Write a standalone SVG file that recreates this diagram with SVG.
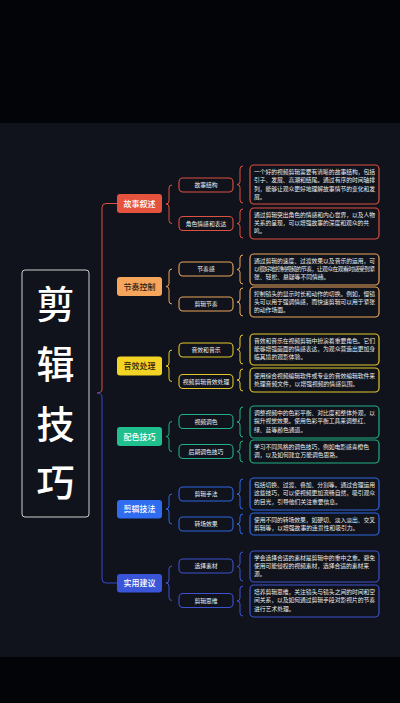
<svg xmlns="http://www.w3.org/2000/svg" width="400" height="703" viewBox="0 0 400 703">
<style>
text{font-family:"Noto Sans CJK SC","Noto Sans",sans-serif}
.ttl{font-size:38px;fill:#ffffff;text-anchor:middle;font-weight:500}
.sec{font-size:8px;text-anchor:middle;font-weight:500}
.ch{font-size:5.8px;fill:#f2f2f2;text-anchor:middle}
.tx{font-size:5.8px;fill:#eeeeee}
.cbox{fill:#10131b;stroke-width:1.1}
.tbox{fill:#10131b;stroke-width:1.2}
.br{fill:none;stroke-width:1}
.red{stroke:#dc5142}.ora{stroke:#e8a55c}.yel{stroke:#e2c62c}.grn{stroke:#20b083}.blu{stroke:#2f66e2}.ind{stroke:#3d52cc}
</style>
<rect x="0" y="0" width="400" height="703" fill="#030408"/>
<rect x="0" y="123" width="400" height="534" fill="#10131b"/>

<g id="connectors">
<path class="br red" d="M117 203.5 L106 203.5 Q102 203.5 102 207.5 L102 389 Q102 393 97 393"/>
<path class="br blu" d="M97 393 Q102 393 102 397 L102 579 Q102 583 106 583 L117 583" style="stroke:#3448cc"/>
<path class="br red" d="M172 185 Q169 185 169 188 L169 201 Q169 204 166 204 Q169 204 169 207 L169 220.5 Q169 223.5 172 223.5"/>
<path class="br ora" d="M172 269 Q169 269 169 272 L169 283.5 Q169 286.5 166 286.5 Q169 286.5 169 289.5 L169 301 Q169 304 172 304"/>
<path class="br yel" d="M172 350 Q169 350 169 353 L169 363 Q169 366 166 366 Q169 366 169 369 L169 378.5 Q169 381.5 172 381.5"/>
<path class="br grn" d="M172 421.5 Q169 421.5 169 424.5 L169 433.5 Q169 436.5 166 436.5 Q169 436.5 169 439.5 L169 448.5 Q169 451.5 172 451.5"/>
<path class="br blu" d="M172 494 Q169 494 169 497 L169 506 Q169 509 166 509 Q169 509 169 512 L169 521 Q169 524 172 524"/>
<path class="br ind" d="M172 566 Q169 566 169 569 L169 580 Q169 583 166 583 Q169 583 169 586 L169 597.5 Q169 600.5 172 600.5"/>
<path class="br red" d="M243 166 Q240 166 240 169 L240 181.5 Q240 184.5 237 184.5 Q240 184.5 240 187.5 L240 200 Q240 203 243 203"/>
<path class="br red" d="M243 209 Q240 209 240 212 L240 220.5 Q240 223.5 237 223.5 Q240 223.5 240 226.5 L240 235 Q240 238 243 238"/>
<path class="br ora" d="M243 255 Q240 255 240 258 L240 266.5 Q240 269.5 237 269.5 Q240 269.5 240 272.5 L240 281 Q240 284 243 284"/>
<path class="br ora" d="M243 288 Q240 288 240 291 L240 299 Q240 302 237 302 Q240 302 240 305 L240 313 Q240 316 243 316"/>
<path class="br yel" d="M243 335 Q240 335 240 338 L240 346.5 Q240 349.5 237 349.5 Q240 349.5 240 352.5 L240 361 Q240 364 243 364"/>
<path class="br yel" d="M243 369 Q240 369 240 372 L240 377 Q240 380 237 380 Q240 380 240 383 L240 388 Q240 391 243 391"/>
<path class="br grn" d="M243 407 Q240 407 240 410 L240 419 Q240 422 237 422 Q240 422 240 425 L240 434 Q240 437 243 437"/>
<path class="br grn" d="M243 441 Q240 441 240 444 L240 448.5 Q240 451.5 237 451.5 Q240 451.5 240 454.5 L240 459 Q240 462 243 462"/>
<path class="br blu" d="M243 479 Q240 479 240 482 L240 491 Q240 494 237 494 Q240 494 240 497 L240 506 Q240 509 243 509"/>
<path class="br blu" d="M243 514 Q240 514 240 517 L240 521 Q240 524 237 524 Q240 524 240 527 L240 531 Q240 534 243 534"/>
<path class="br ind" d="M243 552 Q240 552 240 555 L240 563.5 Q240 566.5 237 566.5 Q240 566.5 240 569.5 L240 578 Q240 581 243 581"/>
<path class="br ind" d="M243 586 Q240 586 240 589 L240 598 Q240 601 237 601 Q240 601 240 604 L240 613 Q240 616 243 616"/>
</g>

<g id="root">
<rect x="22" y="270" width="67" height="247" rx="3" fill="#10131b" stroke="#d0d0d0" stroke-width="1"/>
<text class="ttl" x="55.5" y="318">剪</text>
<text class="ttl" x="55.5" y="378">辑</text>
<text class="ttl" x="55.5" y="438">技</text>
<text class="ttl" x="55.5" y="496">巧</text>
</g>

<g id="s1"><rect x="117" y="194" width="45" height="19" rx="3" fill="#e5533f"/><text class="sec" x="139.5" y="206.5" fill="#ffffff">故事叙述</text></g>
<g id="s1c1"><rect class="cbox red" x="179" y="178" width="54" height="14" rx="4"/><text class="ch" x="206" y="187">故事结构</text></g>
<g id="s1c2"><rect class="cbox red" x="179" y="216.5" width="54" height="14" rx="4"/><text class="ch" x="206" y="225.5">角色情感和表达</text></g>
<g id="s1t1"><rect class="tbox red" x="250" y="165" width="129" height="39" rx="4"/>
<text class="tx" x="254" y="174" textLength="121">一个好的视频剪辑需要有清晰的故事结构，包括</text>
<text class="tx" x="254" y="182.3" textLength="121">引子、发展、高潮和结尾。通过有序的时间轴排</text>
<text class="tx" x="254" y="190.6" textLength="121">列，能够让观众更好地理解故事情节的变化和发</text>
<text class="tx" x="254" y="198.9">展。</text></g>
<g id="s1t2"><rect class="tbox red" x="250" y="208" width="129" height="31" rx="4"/>
<text class="tx" x="254" y="216.8" textLength="121">通过剪辑突出角色的情感和内心世界，以及人物</text>
<text class="tx" x="254" y="225.1" textLength="115">关系的呈现，可以增强故事的深度和观众的共</text>
<text class="tx" x="254" y="233.4">鸣。</text></g>

<g id="s2"><rect x="117" y="277" width="45" height="19" rx="3" fill="#f5a55c"/><text class="sec" x="139.5" y="289.5" fill="#2a2118">节奏控制</text></g>
<g id="s2c1"><rect class="cbox ora" x="179" y="262" width="54" height="14" rx="4"/><text class="ch" x="206" y="271">节奏感</text></g>
<g id="s2c2"><rect class="cbox ora" x="179" y="297" width="54" height="14" rx="4"/><text class="ch" x="206" y="306">剪辑节奏</text></g>
<g id="s2t1"><rect class="tbox ora" x="250" y="254" width="129" height="31" rx="4"/>
<text class="tx" x="254" y="262.8" textLength="121">通过剪辑的速度、过渡效果以及音乐的运用，可</text>
<text class="tx" x="254" y="271.1" textLength="121">以很好地控制视频的节奏，让观众在观看时感受到紧</text>
<text class="tx" x="254" y="279.4">张、轻松、悬疑等不同情绪。</text></g>
<g id="s2t2"><rect class="tbox ora" x="250" y="287" width="129" height="30" rx="4"/>
<text class="tx" x="254" y="295.6" textLength="121">控制镜头的显示时长和动作的切换。例如，慢镜</text>
<text class="tx" x="254" y="303.9" textLength="121">头可以用于强调情感，而快速剪辑可以用于紧张</text>
<text class="tx" x="254" y="312.2">的动作场面。</text></g>

<g id="s3"><rect x="117" y="356.5" width="45" height="19" rx="3" fill="#f3d425"/><text class="sec" x="139.5" y="369" fill="#2a2410">音效处理</text></g>
<g id="s3c1"><rect class="cbox yel" x="179" y="343" width="54" height="14" rx="4"/><text class="ch" x="206" y="352">音效和音乐</text></g>
<g id="s3c2"><rect class="cbox yel" x="179" y="374.5" width="54" height="14" rx="4"/><text class="ch" x="206" y="383.5">视频剪辑音效处理</text></g>
<g id="s3t1"><rect class="tbox yel" x="250" y="334" width="129" height="31" rx="4"/>
<text class="tx" x="254" y="342.8" textLength="121">音效和音乐在视频剪辑中扮演着重要角色。它们</text>
<text class="tx" x="254" y="351.1" textLength="121">能够增强画面的情感表达，为观众营造出更加身</text>
<text class="tx" x="254" y="359.4">临其境的观影体验。</text></g>
<g id="s3t2"><rect class="tbox yel" x="250" y="368" width="129" height="24" rx="4"/>
<text class="tx" x="254" y="377.6" textLength="121">使用综合视频编辑软件或专业的音效编辑软件来</text>
<text class="tx" x="254" y="385.9">处理音频文件，以增强视频的情感氛围。</text></g>

<g id="s4"><rect x="117" y="427" width="45" height="19" rx="3" fill="#20bf8e"/><text class="sec" x="139.5" y="439.5" fill="#ffffff">配色技巧</text></g>
<g id="s4c1"><rect class="cbox grn" x="179" y="414.5" width="54" height="14" rx="4"/><text class="ch" x="206" y="423.5">视频调色</text></g>
<g id="s4c2"><rect class="cbox grn" x="179" y="444.5" width="54" height="14" rx="4"/><text class="ch" x="206" y="453.5">后期调色技巧</text></g>
<g id="s4t1"><rect class="tbox grn" x="250" y="406" width="129" height="32" rx="4"/>
<text class="tx" x="254" y="415" textLength="121">调整视频中的色彩平衡、对比度和整体外观，以</text>
<text class="tx" x="254" y="423.3" textLength="115">提升视觉效果。使用色彩平衡工具来调整红、</text>
<text class="tx" x="254" y="431.6">绿、蓝等颜色通道。</text></g>
<g id="s4t2"><rect class="tbox grn" x="250" y="440" width="129" height="23" rx="4"/>
<text class="tx" x="254" y="449.1" textLength="115">学习不同风格的调色技巧，例如电影感青橙色</text>
<text class="tx" x="254" y="457.4">调，以及如何建立万能调色思路。</text></g>

<g id="s5"><rect x="117" y="500" width="45" height="18.5" rx="3" fill="#2f6cf0"/><text class="sec" x="139.5" y="512.3" fill="#ffffff">剪辑技法</text></g>
<g id="s5c1"><rect class="cbox blu" x="179" y="487" width="54" height="14" rx="4"/><text class="ch" x="206" y="496">剪辑手法</text></g>
<g id="s5c2"><rect class="cbox blu" x="179" y="517" width="54" height="14" rx="4"/><text class="ch" x="206" y="526">转场效果</text></g>
<g id="s5t1"><rect class="tbox blu" x="250" y="478" width="129" height="32" rx="4"/>
<text class="tx" x="254" y="487" textLength="121">包括切换、过渡、叠加、分割等。通过合理运用</text>
<text class="tx" x="254" y="495.3" textLength="121">这些技巧，可以使视频更加流畅自然，吸引观众</text>
<text class="tx" x="254" y="503.6">的目光，引导他们关注重要信息。</text></g>
<g id="s5t2"><rect class="tbox blu" x="250" y="513" width="129" height="22" rx="4"/>
<text class="tx" x="254" y="521.8" textLength="121">使用不同的转场效果，如硬切、淡入淡出、交叉</text>
<text class="tx" x="254" y="530.1">剪辑等，以增强故事的连贯性和吸引力。</text></g>

<g id="s6"><rect x="117" y="574" width="45" height="18.5" rx="3" fill="#3b55d8"/><text class="sec" x="139.5" y="586.3" fill="#ffffff">实用建议</text></g>
<g id="s6c1"><rect class="cbox ind" x="179" y="559" width="54" height="14" rx="4"/><text class="ch" x="206" y="568">选择素材</text></g>
<g id="s6c2"><rect class="cbox ind" x="179" y="593.5" width="54" height="14" rx="4"/><text class="ch" x="206" y="602.5">剪辑思维</text></g>
<g id="s6t1"><rect class="tbox ind" x="250" y="551" width="129" height="31" rx="4"/>
<text class="tx" x="254" y="559.8" textLength="121">学会选择合适的素材是剪辑中的重中之重。避免</text>
<text class="tx" x="254" y="568.1" textLength="115">使用可能侵权的视频素材，选择合适的素材来</text>
<text class="tx" x="254" y="576.4">源。</text></g>
<g id="s6t2"><rect class="tbox ind" x="250" y="585" width="129" height="32" rx="4"/>
<text class="tx" x="254" y="594" textLength="121">培养剪辑思维，关注镜头与镜头之间的时间和空</text>
<text class="tx" x="254" y="602.3" textLength="121">间关系，以及如何通过剪辑手段对影视片的节奏</text>
<text class="tx" x="254" y="610.6">进行艺术处理。</text></g>
</svg>
